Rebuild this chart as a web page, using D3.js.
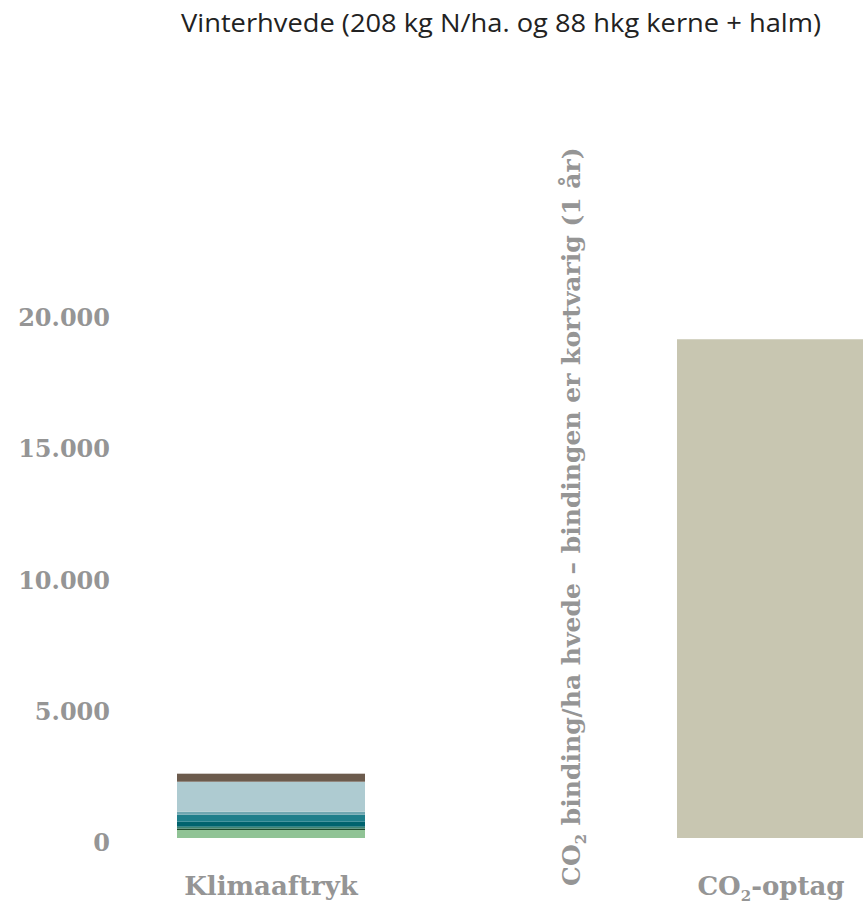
<!DOCTYPE html>
<html>
<head>
<meta charset="utf-8">
<script src="https://cdn.jsdelivr.net/npm/d3@7"></script>
<style>
  body { margin: 0; background: #fff; }
  svg { display: block; }
</style>
</head>
<body>
<svg id="chart"></svg>
<script>
// categories on the x axis
const categories = ["Klimaaftryk", "CO2-optag"];
// stack layers, bottom to top
const layerKeys = ["gron", "morkgron", "mellemgron", "morkturkis", "turkis", "lysturkis", "lysblaa", "brun", "optag"];
const layerColours = ["#90c395", "#1f4a2e", "#3f8572", "#00636e", "#1f7f8b", "#6fa7b1", "#aecbd1", "#6c5b4d", "#c8c6b1"];
// values per category (kg CO2e/ha)
const klimaValues = [305, 50, 75, 190, 265, 115, 1145, 305, 0];
const optagValues = [0, 0, 0, 0, 0, 0, 0, 0, 19000];
const yTicks = [0, 5000, 10000, 15000, 20000];

const width = 863, height = 910;
const svg = d3.select("#chart").attr("width", width).attr("height", height);

const table = [klimaValues, optagValues].map((vals, i) => {
  const row = { category: categories[i] };
  layerKeys.forEach((k, j) => row[k] = vals[j]);
  return row;
});

const series = d3.stack().keys(layerKeys)(table);

const xScale = d3.scaleBand()
  .domain(categories)
  .range([177, 865])
  .paddingInner(0.624)
  .paddingOuter(0);

const yScale = d3.scaleLinear()
  .domain([0, 20000])
  .range([838, 313]);

const colour = d3.scaleOrdinal().domain(layerKeys).range(layerColours);

// title
svg.append("text")
  .attr("x", 501)
  .attr("y", 32)
  .attr("text-anchor", "middle")
  .attr("font-family", "'Open Sans', sans-serif")
  .attr("font-size", 26)
  .attr("textLength", 640)
  .attr("lengthAdjust", "spacingAndGlyphs")
  .attr("fill", "#222")
  .text("Vinterhvede (208 kg N/ha. og 88 hkg kerne + halm)");

// bars
svg.append("g").selectAll("g")
  .data(series)
  .join("g")
    .attr("fill", d => colour(d.key))
  .selectAll("rect")
  .data(d => d)
  .join("rect")
    .attr("x", d => xScale(d.data.category))
    .attr("width", xScale.bandwidth())
    .attr("y", d => yScale(d[1]))
    .attr("height", d => yScale(d[0]) - yScale(d[1]));

// y axis (labels only)
const fmt = v => d3.format(",")(v).replace(/,/g, ".");
const yAxis = d3.axisLeft(yScale).tickValues(yTicks).tickFormat(fmt).tickSize(0).tickPadding(0);
const yAxisG = svg.append("g")
  .attr("transform", "translate(110,5)")
  .call(yAxis);
yAxisG.select(".domain").remove();
yAxisG.selectAll("text")
  .attr("font-family", "'DejaVu Serif', serif")
  .attr("font-weight", "bold")
  .attr("font-size", 24)
  .attr("fill", "#959595");

// x labels, with subscript 2 in CO2
const xLabels = svg.append("g").selectAll("text")
  .data(categories)
  .join("text")
    .attr("x", d => xScale(d) + xScale.bandwidth() / 2)
    .attr("y", 895)
    .attr("text-anchor", "middle")
    .attr("font-family", "'DejaVu Serif', serif")
    .attr("font-weight", "bold")
    .attr("font-size", 26)
    .attr("fill", "#959595");
xLabels.each(function(d) {
  const t = d3.select(this);
  if (d.startsWith("CO2")) {
    t.append("tspan").text("CO");
    t.append("tspan").attr("font-size", 15).attr("dy", 6).text("2");
    t.append("tspan").attr("dy", -6).text(d.slice(3));
  } else {
    t.text(d);
  }
});

// rotated annotation
const note = svg.append("text")
  .attr("transform", "translate(580,886) rotate(-90)")
  .attr("font-family", "'DejaVu Serif', serif")
  .attr("font-weight", "bold")
  .attr("font-size", 25)
  .attr("fill", "#959595");
note.append("tspan").text("CO");
note.append("tspan").attr("font-size", 15).attr("dy", 6).text("2");
note.append("tspan").attr("dy", -6).text(" binding/ha hvede \u2013 bindingen er kortvarig (1 år)");
</script>
</body>
</html>
